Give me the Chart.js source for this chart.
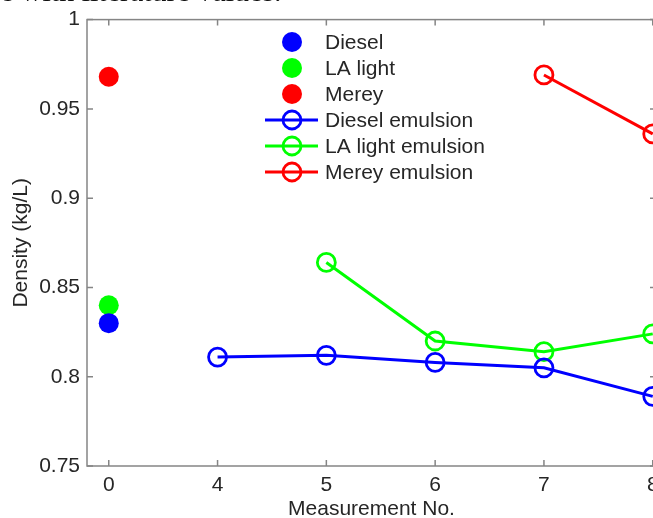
<!DOCTYPE html>
<html>
<head>
<meta charset="utf-8">
<script src="https://cdn.jsdelivr.net/npm/chart.js@4.4.1/dist/chart.umd.min.js"></script>
<style>
  html, body { margin: 0; padding: 0; background: #fff; overflow: hidden; width: 653px; height: 518px; }
  #wrap { position: relative; width: 700px; height: 540px; }
  #caption { position: absolute; left: 0; top: -26px; font: 30px "Liberation Serif", serif; color: #111; white-space: nowrap; }
</style>
</head>
<body>
<div id="wrap">
  <canvas id="chart" width="700" height="540"></canvas>
  <div id="caption">e with literature values.</div>
</div>
<script>
const xLabels = ['0', '4', '5', '6', '7', '8'];
const yTicks = [0.75, 0.8, 0.85, 0.9, 0.95, 1];

const diesel = [0.830, null, null, null, null, null];
const laLight = [0.840, null, null, null, null, null];
const merey = [0.968, null, null, null, null, null];
const dieselEmulsion = [null, 0.811, 0.812, 0.808, 0.805, 0.789];
const laLightEmulsion = [null, null, 0.864, 0.820, 0.814, 0.824];
const mereyEmulsion = [null, null, null, null, 0.969, 0.936];

const font = { family: '"Liberation Sans", Arial, sans-serif', size: 21 };
const textColor = '#262626';

// index on the x axis -> {x, y}, skipping empty slots
const pts = arr => arr.map((v, i) => ({ x: i, y: v })).filter(p => p.y !== null);

function pure(label, values, color) {
  return {
    label, data: pts(values), showLine: false,
    pointRadius: 10, pointHoverRadius: 10,
    pointBackgroundColor: color, pointBorderColor: color, pointBorderWidth: 0,
    borderColor: color, clip: false
  };
}
function emulsion(label, values, color) {
  return {
    label, data: pts(values), showLine: true,
    borderColor: color, borderWidth: 3,
    pointRadius: 9, pointHoverRadius: 9,
    pointBackgroundColor: 'rgba(0,0,0,0)', pointBorderColor: color, pointBorderWidth: 2.8,
    clip: false
  };
}

// box around the plot with inward tick marks
const axisBox = {
  id: 'axisBox',
  beforeDatasetsDraw(chart) {
    const { ctx, chartArea: a, scales: { x, y } } = chart;
    const len = 6;
    ctx.save();
    ctx.strokeStyle = '#858585';
    ctx.lineWidth = 1.5;
    ctx.strokeRect(a.left, a.top, a.right - a.left, a.bottom - a.top);
    ctx.beginPath();
    x.ticks.forEach(t => {
      const px = x.getPixelForValue(t.value);
      ctx.moveTo(px, a.bottom); ctx.lineTo(px, a.bottom - len);
      ctx.moveTo(px, a.top); ctx.lineTo(px, a.top + len);
    });
    y.ticks.forEach(t => {
      const py = y.getPixelForValue(t.value);
      ctx.moveTo(a.left, py); ctx.lineTo(a.left + len, py);
      ctx.moveTo(a.right, py); ctx.lineTo(a.right - len, py);
    });
    ctx.stroke();
    ctx.restore();
  }
};

// MATLAB-style legend without a frame
const legendBox = {
  id: 'legendBox',
  afterDraw(chart) {
    const ctx = chart.ctx;
    const markX = 292, textX = 325, top = 42, step = 26;
    ctx.save();
    ctx.font = '21px "Liberation Sans", Arial, sans-serif';
    ctx.textBaseline = 'middle';
    chart.data.datasets.forEach((ds, i) => {
      const yy = top + i * step;
      const c = ds.borderColor;
      if (ds.showLine) {
        ctx.strokeStyle = c;
        ctx.lineWidth = 3;
        ctx.beginPath();
        ctx.moveTo(265, yy); ctx.lineTo(318, yy);
        ctx.stroke();
        ctx.lineWidth = 2.8;
        ctx.beginPath();
        ctx.arc(markX, yy, 9, 0, Math.PI * 2);
        ctx.stroke();
      } else {
        ctx.fillStyle = c;
        ctx.beginPath();
        ctx.arc(markX, yy, 10, 0, Math.PI * 2);
        ctx.fill();
      }
      ctx.fillStyle = textColor;
      ctx.fillText(ds.label, textX, yy + 1);
    });
    ctx.restore();
  }
};

new Chart(document.getElementById('chart'), {
  type: 'line',
  data: {
    datasets: [
      pure('Diesel', diesel, '#0000ff'),
      pure('LA light', laLight, '#00ff00'),
      pure('Merey', merey, '#ff0000'),
      emulsion('Diesel emulsion', dieselEmulsion, '#0000ff'),
      emulsion('LA light emulsion', laLightEmulsion, '#00ff00'),
      emulsion('Merey emulsion', mereyEmulsion, '#ff0000')
    ]
  },
  options: {
    responsive: false,
    animation: false,
    events: [],
    layout: { padding: { left: 0, top: 16, right: 44, bottom: 18 } },
    plugins: { legend: { display: false }, tooltip: { enabled: false } },
    scales: {
      x: {
        type: 'linear', min: -0.2, max: 5.03,
        grid: { display: false, drawTicks: false }, border: { display: false },
        afterBuildTicks: s => { s.ticks = xLabels.map((_, i) => ({ value: i })); },
        ticks: { callback: v => xLabels[v], padding: 7, font, color: textColor, maxRotation: 0, autoSkip: false },
        title: { display: true, text: 'Measurement No.', font, color: textColor, padding: { top: 0, bottom: 0 } },
        afterFit: s => { s.height = 56; }
      },
      y: {
        type: 'linear', min: 0.75, max: 1,
        grid: { display: false, drawTicks: false }, border: { display: false },
        afterBuildTicks: s => { s.ticks = yTicks.map(v => ({ value: v })); },
        ticks: { callback: v => String(v), padding: 7, font, color: textColor, autoSkip: false },
        title: { display: true, text: 'Density (kg/L)', font, color: textColor, padding: { top: 9, bottom: 0 } },
        afterFit: s => { s.width = 87; }
      }
    }
  },
  plugins: [axisBox, legendBox]
});
</script>
</body>
</html>
